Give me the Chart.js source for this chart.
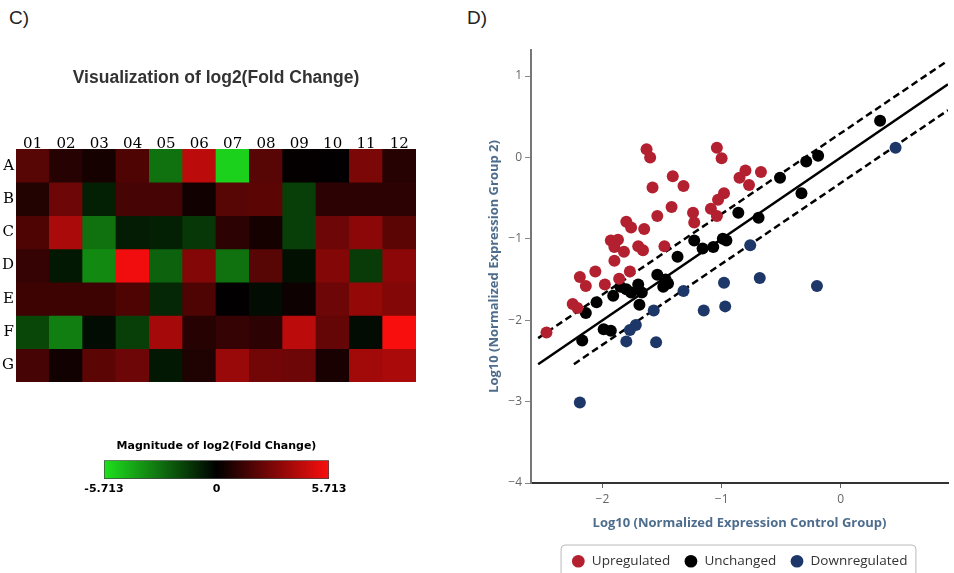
<!DOCTYPE html>
<html><head><meta charset="utf-8">
<script src="https://cdn.jsdelivr.net/npm/chart.js@4.4.0/dist/chart.umd.min.js"></script>
<style>
html,body{margin:0;padding:0;background:#fff;width:954px;height:573px;overflow:hidden;}
.wrap{position:absolute;}
.panel{position:absolute;font-family:"Liberation Sans",Arial,sans-serif;font-size:19px;color:#222;}
</style></head><body>
<div class="panel" style="left:9px;top:7px">C)</div>
<div class="panel" style="left:467px;top:7px">D)</div>
<div class="wrap" style="left:0;top:0;width:430px;height:390px"><canvas id="heat"></canvas></div>
<div class="wrap" style="left:80px;top:430px;width:280px;height:70px"><canvas id="cbar"></canvas></div>
<div class="wrap" style="left:480px;top:0;width:474px;height:573px"><canvas id="scatter"></canvas></div>
<script>
// ---------- Panel C: heatmap data ----------
const heatCols = ['01','02','03','04','05','06','07','08','09','10','11','12'];
const heatRows = ['A','B','C','D','E','F','G'];
const rowA = [2.0, 0.9, 0.5, 1.8, -2.9, 4.3, -5.3, 2.0, 0.1, 0.05, 2.8, 0.9];
const rowB = [0.8, 2.5, -0.8, 1.6, 1.6, 0.4, 2.0, 2.1, -1.6, 1.0, 1.0, 1.0];
const rowC = [1.8, 3.9, -2.9, -0.7, -0.8, -1.4, 1.0, 0.5, -1.6, 2.5, 3.2, 2.1];
const rowD = [1.2, -0.6, -3.5, 5.5, -2.5, 3.0, -2.9, 2.0, -0.4, 3.0, -1.5, 3.2];
const rowE = [1.4, 1.4, 1.4, 1.8, -1.0, 1.8, 0.05, -0.3, 0.3, 2.5, 3.4, 3.0];
const rowF = [-1.8, -3.2, -0.3, -1.6, 3.8, 0.9, 1.2, 1.0, 4.3, 2.3, -0.3, 5.7];
const rowG = [1.6, 0.4, 2.1, 2.5, -0.6, 0.7, 3.5, 2.6, 2.5, 0.6, 3.7, 3.9];
const scaleMin = -5.713, scaleMax = 5.713;
const colorTicks = [-5.713, 0, 5.713];
const colorTickLabels = ['-5.713', '0', '5.713'];

// ---------- Panel D: scatter data ----------
const upX = [-1.63,-1.60,-1.58,-1.41,-1.32,-1.42,-1.54,-1.65,-1.80,-1.76,-1.93,-1.87,-1.90,-1.82,-1.90,-1.70,-1.66,-1.48,-2.06,-2.19,-2.14,-1.98,-1.86,-1.77,-1.24,-1.23,-1.09,-1.04,-1.04,-1.00,-0.98,-1.03,-0.85,-0.80,-0.77,-0.67,-2.47,-2.25,-2.21];
const upY = [0.10,0.00,-0.37,-0.23,-0.35,-0.61,-0.72,-0.88,-0.79,-0.86,-1.02,-1.01,-1.10,-1.16,-1.27,-1.09,-1.14,-1.09,-1.40,-1.47,-1.58,-1.56,-1.49,-1.40,-0.68,-0.80,-0.63,-0.72,0.12,-0.01,-0.44,-0.52,-0.25,-0.16,-0.34,-0.18,-2.15,-1.80,-1.85];
const unX = [0.33,-0.29,-0.19,-0.51,-0.33,-0.86,-0.69,-1.23,-1.16,-1.07,-0.99,-0.96,-1.37,-1.54,-1.47,-1.49,-1.45,-1.70,-1.67,-1.69,-1.85,-1.80,-1.76,-1.91,-2.05,-2.14,-2.17,-1.99,-1.93];
const unY = [0.45,-0.05,0.02,-0.25,-0.44,-0.68,-0.74,-1.02,-1.12,-1.10,-1.00,-1.02,-1.22,-1.44,-1.50,-1.59,-1.55,-1.56,-1.66,-1.81,-1.59,-1.62,-1.66,-1.70,-1.78,-1.91,-2.25,-2.11,-2.13];
const downX = [0.46,-0.76,-0.98,-0.68,-0.20,-1.32,-0.97,-1.15,-1.57,-1.72,-1.77,-1.80,-1.55,-2.19];
const downY = [0.12,-1.08,-1.54,-1.48,-1.58,-1.64,-1.83,-1.88,-1.88,-2.06,-2.12,-2.26,-2.27,-3.01];
const fitX = [-2.54, 0.9], fitY = [-2.54, 0.9];
const upperX = [-2.54, 0.9], upperY = [-2.22, 1.19];
const lowerX = [-2.24, 0.9], lowerY = [-2.54, 0.58];
const xTicks = [-2, -1, 0];
const yTicks = [1, 0, -1, -2, -3, -4];

// ---------- helpers ----------
const heatValues = [rowA, rowB, rowC, rowD, rowE, rowF, rowG];
function heatColor(v) {
  const t = Math.min(1, Math.abs(v) / scaleMax);
  if (v >= 0) return `rgb(${Math.round(250*t)},${Math.round(14*t)},${Math.round(14*t)})`;
  return `rgb(${Math.round(30*t)},${Math.round(225*t)},${Math.round(30*t)})`;
}
const pts = (xs, ys) => xs.map((x, i) => ({x, y: ys[i]}));
const fmtMinus = v => (v < 0 ? '\u2212' + Math.abs(v) : String(v));

Chart.defaults.animation = false;

// ---------- heatmap ----------
new Chart(document.getElementById('heat'), {
  type: 'bar',
  data: {
    labels: heatCols,
    datasets: heatRows.map((r, i) => ({
      label: r,
      data: heatCols.map(() => 1),
      backgroundColor: heatValues[i].map(heatColor),
      borderWidth: 0,
      barPercentage: 1,
      categoryPercentage: 1,
      stack: 'grid',
      yAxisID: 'y'
    }))
  },
  options: {
    responsive: true, maintainAspectRatio: false,
    layout: {padding: {left: 0, right: 14, top: 0, bottom: 8}},
    plugins: {
      legend: {display: false}, tooltip: {enabled: false},
      title: {display: true, fullSize: false, text: 'Visualization of log2(Fold Change)', color: '#333',
        font: {family: '"Liberation Sans", Arial, sans-serif', size: 17.5, weight: 'bold'},
        padding: {top: 68, bottom: 44}}
    },
    scales: {
      x: {type: 'category', position: 'top', stacked: true, offset: true,
        grid: {display: false, drawTicks: false}, border: {display: false},
        ticks: {color: '#000', padding: -4, font: {family: '"DejaVu Serif", serif', size: 15}},
        afterFit: s => { s.height = 16; }},
      y: {type: 'linear', stacked: true, min: 0, max: 7, reverse: true, display: false},
      rows: {type: 'category', axis: 'y', labels: heatRows, position: 'left', offset: true,
        grid: {display: false, drawTicks: false}, border: {display: false},
        ticks: {color: '#000', padding: 2, font: {family: '"DejaVu Serif", serif', size: 15}},
        afterFit: s => { s.width = 16; s.paddingTop = 0; s.paddingBottom = 0; }}
    }
  }
});

// ---------- colour bar ----------
new Chart(document.getElementById('cbar'), {
  type: 'bar',
  data: {labels: [''], datasets: [{
    data: [[scaleMin, scaleMax]],
    backgroundColor: (c) => {
      const a = c.chart.chartArea; if (!a) return '#000';
      const g = c.chart.ctx.createLinearGradient(a.left, 0, a.right, 0);
      g.addColorStop(0, heatColor(scaleMin)); g.addColorStop(0.5, '#000'); g.addColorStop(1, heatColor(scaleMax));
      return g;
    },
    borderColor: '#444', borderWidth: 1, borderSkipped: false,
    barPercentage: 1, categoryPercentage: 1
  }]},
  options: {
    indexAxis: 'y', responsive: true, maintainAspectRatio: false,
    layout: {padding: {left: 24, right: 31, top: 0, bottom: 0}},
    plugins: {
      legend: {display: false}, tooltip: {enabled: false},
      title: {display: true, text: 'Magnitude of log2(Fold Change)', color: '#000',
        font: {family: '"DejaVu Sans", Verdana, sans-serif', size: 11, weight: 'bold'},
        padding: {top: 10, bottom: 7}}
    },
    scales: {
      x: {type: 'linear', min: scaleMin, max: scaleMax,
        afterBuildTicks: s => { s.ticks = colorTicks.map(v => ({value: v})); },
        grid: {display: false, drawTicks: false}, border: {display: false},
        ticks: {color: '#000', padding: 4, maxRotation: 0, autoSkip: false,
          font: {family: '"DejaVu Sans", Verdana, sans-serif', size: 11, weight: 'bold'},
          callback: (v, i) => colorTickLabels[i]},
        afterFit: s => { s.height = 21; }},
      y: {display: false}
    }
  }
});

// ---------- scatter ----------
const legendBox = {
  id: 'legendBox',
  afterDraw(chart) {
    const l = chart.legend; if (!l || !l.legendHitBoxes || !l.legendHitBoxes.length) return;
    const hb = l.legendHitBoxes;
    const minX = Math.min(...hb.map(h => h.left)), maxX = Math.max(...hb.map(h => h.left + h.width));
    const top = hb[0].top;
    const ctx = chart.ctx; ctx.save();
    ctx.strokeStyle = '#bbb'; ctx.lineWidth = 1;
    ctx.beginPath(); ctx.roundRect(minX - 10.5, top - 9.5, maxX - minX + 19, 40, 4); ctx.stroke();
    ctx.restore();
  }
};
const tickFont = {family: '"Open Sans", sans-serif', size: 12};
const titleFont = {family: '"Open Sans", sans-serif', size: 13, weight: 'bold'};
new Chart(document.getElementById('scatter'), {
  type: 'scatter',
  data: {datasets: [
    {label: 'Upregulated', data: pts(upX, upY), backgroundColor: '#b3202f', pointRadius: 6, borderWidth: 0},
    {label: 'Unchanged', data: pts(unX, unY), backgroundColor: '#000', pointRadius: 6, borderWidth: 0},
    {label: 'Downregulated', data: pts(downX, downY), backgroundColor: '#1d3769', pointRadius: 6, borderWidth: 0},
    {label: 'fit', data: pts(fitX, fitY), showLine: true, borderColor: '#000', borderWidth: 2.5, pointRadius: 0},
    {label: 'upper', data: pts(upperX, upperY), showLine: true, borderColor: '#000', borderWidth: 2.5, borderDash: [7, 4], pointRadius: 0},
    {label: 'lower', data: pts(lowerX, lowerY), showLine: true, borderColor: '#000', borderWidth: 2.5, borderDash: [7, 4], pointRadius: 0}
  ]},
  options: {
    responsive: true, maintainAspectRatio: false,
    layout: {padding: {left: 0, right: 0, top: 50, bottom: -5}},
    plugins: {
      tooltip: {enabled: false},
      legend: {position: 'bottom', fullSize: false,
        labels: {usePointStyle: true, pointStyle: 'circle', boxWidth: 13.5, boxHeight: 9, padding: 14,
          color: '#333', font: {family: '"Open Sans", sans-serif', size: 13.5},
          filter: it => it.datasetIndex < 3}}
    },
    scales: {
      x: {type: 'linear', min: -2.6, max: 0.9,
        afterBuildTicks: s => { s.ticks = xTicks.map(v => ({value: v})); },
        grid: {display: true, drawOnChartArea: false, drawTicks: true, tickLength: 5, color: '#666'},
        border: {display: true, color: '#333', width: 2},
        ticks: {color: '#666', font: tickFont, padding: 4, callback: v => fmtMinus(v)},
        title: {display: true, text: 'Log10 (Normalized Expression Control Group)', color: '#4e6d8d', font: titleFont, padding: {top: 6, bottom: 9}},
        afterFit: s => { s.height = 57.5; }},
      y: {type: 'linear', min: -4, max: 1.32,
        afterBuildTicks: s => { s.ticks = yTicks.map(v => ({value: v})); },
        grid: {display: true, drawOnChartArea: false, drawTicks: true, tickLength: 6, color: '#888'},
        border: {display: true, color: '#777', width: 2},
        ticks: {color: '#666', font: tickFont, padding: 3, callback: v => fmtMinus(v)},
        title: {display: true, text: 'Log10 (Normalized Expression Group 2)', color: '#4e6d8d', font: titleFont, padding: {top: 6, bottom: 2}},
        afterFit: s => { s.width = 51; }}
    }
  },
  plugins: [legendBox]
});
</script>
</body></html>
